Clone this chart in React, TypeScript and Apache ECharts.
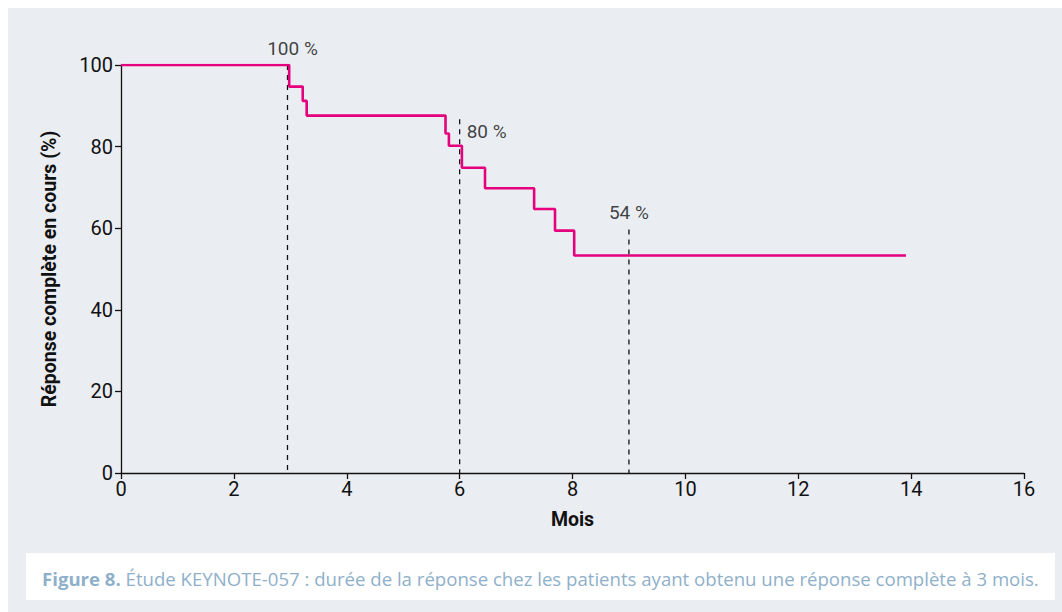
import React, { useEffect, useRef } from "react";
import * as echarts from "echarts";

// Kaplan-Meier style step curve (months, % in ongoing complete response)
const kmMonths = [0, 2.98, 3.22, 3.29, 5.75, 5.81, 6.04, 6.45, 7.32, 7.69, 8.03, 13.91];
const kmValues = [100, 94.7, 91.2, 87.6, 83.2, 80.2, 74.8, 69.8, 64.7, 59.4, 53.3, 53.3];

// Dashed reference lines
const refMonths = [2.95, 6, 9];
const refTops = [100, 86.7, 59.7];
const refLabels = ["100 %", "80 %", "54 %"];

const xTicks = [0, 2, 4, 6, 8, 10, 12, 14, 16];
const yTicks = [0, 20, 40, 60, 80, 100];

const xTitle = "Mois";
const yTitle = "Réponse complète en cours (%)";
const captionBold = "Figure 8.";
const captionText = " Étude KEYNOTE-057 : durée de la réponse chez les patients ayant obtenu une réponse complète à 3 mois.";

const NARROW = "Roboto, 'Liberation Sans', sans-serif";
const PINK = "#e5007d";
const PANEL = "#eaedf2";
const CAPTION = "#8fb0ca";

export default function App() {
  const ref = useRef<HTMLDivElement>(null);

  useEffect(() => {
    if (!ref.current) return;
    const chart = echarts.init(ref.current, null, { renderer: "svg" });

    const kmData = kmMonths.map((m, i) => [m, kmValues[i]]);
    const refSeries = refMonths.map((m, i) => ({
      type: "line" as const,
      data: [
        [m, refTops[i]],
        [m, 0],
      ],
      symbol: "none",
      silent: true,
      z: 1,
      lineStyle: { color: "#111", width: 1.3, type: [5, 5] as any },
    }));

    const labelPos = ["top", "right", "top"];
    const labelOffset = [[5, 0], [0, 12], [0, 0]];
    const labelSeries = {
      type: "scatter" as const,
      clip: false,
      symbolSize: 0,
      silent: true,
      data: refMonths.map((m, i) => ({
        value: [m, refTops[i]],
        label: {
          show: true,
          formatter: refLabels[i],
          position: labelPos[i],
          offset: labelOffset[i],
          distance: 7,
          color: "#111",
          fontSize: 19,
          fontFamily: NARROW,
        },
      })),
    };

    chart.setOption({
      animation: false,
      backgroundColor: "transparent",
      graphic: [
        {
          type: "rect",
          shape: { x: 8, y: 8, width: 1054, height: 604 },
          style: { fill: PANEL },
          z: -10,
          silent: true,
        },
        {
          type: "rect",
          shape: { x: 26, y: 553, width: 1029, height: 47 },
          style: { fill: "#ffffff" },
          z: -9,
          silent: true,
        },
        {
          type: "text",
          x: 42,
          y: 578,
          style: {
            text: `{b|${captionBold}}{n|${captionText}}`,
            verticalAlign: "middle",
            rich: {
              b: { fontFamily: "'Open Sans', sans-serif", fontWeight: "bold", fontSize: 18.6, fill: CAPTION },
              n: { fontFamily: "'Open Sans', sans-serif", fontSize: 18.6, fill: CAPTION },
            },
          },
        },
      ],
      grid: { left: 121, right: 38, top: 65, bottom: 139, containLabel: false },
      xAxis: {
        type: "value",
        min: xTicks[0],
        max: xTicks[xTicks.length - 1],
        interval: 2,
        name: xTitle,
        nameLocation: "middle",
        nameGap: 36,
        nameTextStyle: { fontFamily: NARROW, fontWeight: "bold", fontSize: 19.5, color: "#111" },
        axisLine: { show: true, lineStyle: { color: "#111", width: 1.3 } },
        axisTick: { show: true, length: 6, lineStyle: { color: "#111", width: 1.3 } },
        axisLabel: { fontFamily: NARROW, fontSize: 20, color: "#111", margin: 6 },
        splitLine: { show: false },
      },
      yAxis: {
        type: "value",
        min: yTicks[0],
        max: yTicks[yTicks.length - 1],
        interval: 20,
        name: yTitle,
        nameLocation: "middle",
        nameGap: 62,
        nameTextStyle: { fontFamily: NARROW, fontWeight: "bold", fontSize: 19.5, color: "#111" },
        axisLine: { show: true, lineStyle: { color: "#111", width: 1.3 } },
        axisTick: { show: true, length: 6, lineStyle: { color: "#111", width: 1.3 } },
        axisLabel: { fontFamily: NARROW, fontSize: 20, color: "#111", margin: 8 },
        splitLine: { show: false },
      },
      series: [
        ...refSeries,
        {
          type: "line",
          data: kmData,
          step: "end",
          symbol: "none",
          z: 3,
          lineStyle: { color: PINK, width: 2.6 },
        },
        labelSeries,
      ],
    });

    return () => chart.dispose();
  }, []);

  return (
    <div
      ref={ref}
      style={{ position: "fixed", left: 0, top: 0, width: 1062, height: 612, background: "#ffffff" }}
    />
  );
}
